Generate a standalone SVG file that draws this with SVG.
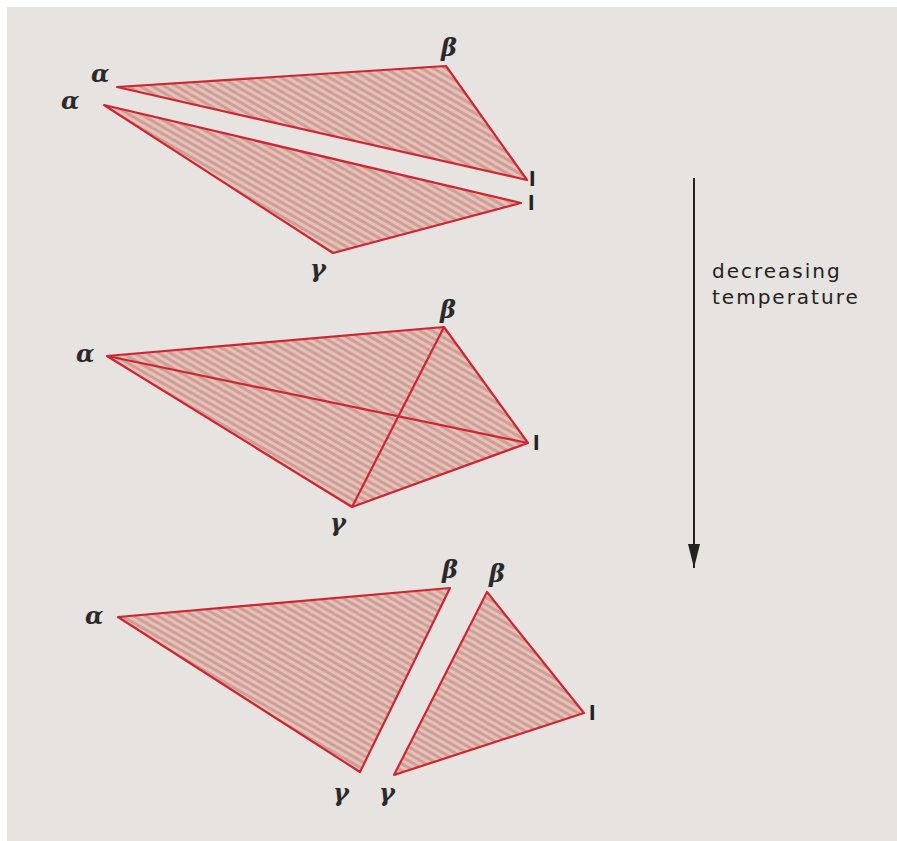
<svg xmlns="http://www.w3.org/2000/svg" width="897" height="841" viewBox="0 0 897 841">
<defs>
<pattern id="hatch" patternUnits="userSpaceOnUse" width="6" height="6" patternTransform="rotate(-60)">
<rect width="6" height="6" fill="#e2c3bc"/>
<rect width="3" height="6" fill="#d29d95"/>
</pattern>
<marker id="arrow" markerWidth="26" markerHeight="14" refX="24" refY="7" orient="auto" markerUnits="userSpaceOnUse">
<path d="M0,1 L24,7 L0,13 Z" fill="#222"/>
</marker>
</defs>
<style>
.tri{fill:url(#hatch);stroke:#cf2530;stroke-width:2.2;stroke-linejoin:round}
.ln{stroke:#cf2530;stroke-width:2.2;fill:none}
.lb{font-family:"DejaVu Serif",serif;font-style:italic;font-weight:bold;font-size:24px;fill:#2a2a2a}
.lq{font-family:"DejaVu Sans",sans-serif;font-weight:bold;font-size:19px;fill:#222}
.tx{font-family:"DejaVu Sans",sans-serif;font-size:20px;fill:#222;letter-spacing:2px}
</style>
<rect x="0" y="0" width="897" height="841" fill="#ffffff"/>
<rect x="7" y="7" width="890" height="834" fill="#e7e3e0"/>

<g id="top-alpha-beta-l">
<polygon class="tri" points="117,87 446,66 527,180"/>
<text class="lb" x="91" y="82">α</text>
<text class="lb" x="441" y="56">β</text>
<text class="lq" x="529" y="186">l</text>
</g>
<g id="top-alpha-l-gamma">
<polygon class="tri" points="104,105 521,203 333,253"/>
<text class="lb" x="61" y="109">α</text>
<text class="lq" x="528" y="210">l</text>
<text class="lb" x="310" y="277">γ</text>
</g>

<g id="middle-tetrahedron">
<polygon class="tri" points="107,356 444,327 528,443 352,507"/>
<line class="ln" x1="107" y1="356" x2="528" y2="443"/>
<line class="ln" x1="444" y1="327" x2="352" y2="507"/>
<text class="lb" x="76" y="362">α</text>
<text class="lb" x="440" y="318">β</text>
<text class="lq" x="533" y="450">l</text>
<text class="lb" x="330" y="531">γ</text>
</g>

<g id="bottom-alpha-beta-gamma">
<polygon class="tri" points="118,617 450,588 360,772"/>
<text class="lb" x="85" y="624">α</text>
<text class="lb" x="442" y="578">β</text>
<text class="lb" x="333" y="801">γ</text>
</g>
<g id="bottom-beta-l-gamma">
<polygon class="tri" points="487,592 584,713 394,775"/>
<text class="lb" x="489" y="582">β</text>
<text class="lq" x="589" y="720">l</text>
<text class="lb" x="379" y="801">γ</text>
</g>

<g id="connectors">
<line x1="694" y1="178" x2="694" y2="568" stroke="#222" stroke-width="2" marker-end="url(#arrow)"/>
</g>
<g id="label-temperature">
<text class="tx" x="712" y="278">decreasing</text>
<text class="tx" x="712" y="304">temperature</text>
</g>
</svg>
